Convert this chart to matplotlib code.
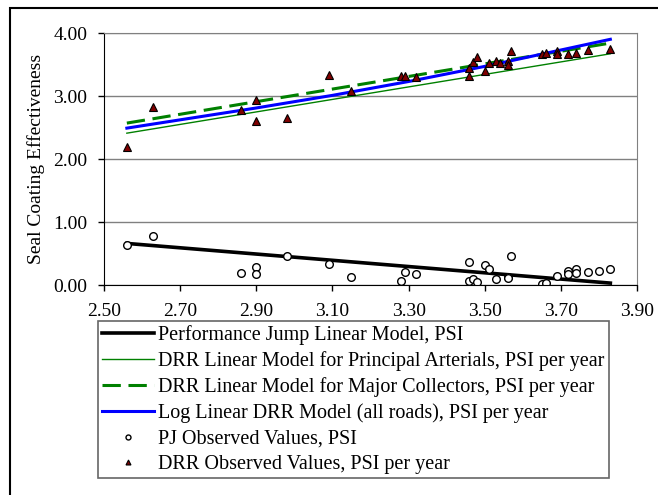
# Seal coating effectiveness vs PSI - recreated chart

import numpy as np
import matplotlib.pyplot as plt

plt.rcParams['font.family'] = ['Liberation Serif', 'DejaVu Serif']

# PJ observed values, PSI
pj_x = [2.56, 2.63, 2.86, 2.90, 2.90, 2.98, 3.09, 3.15, 3.28, 3.29, 3.32,
        3.46, 3.46, 3.47, 3.48, 3.50, 3.51, 3.53, 3.56, 3.56, 3.57, 3.65,
        3.66, 3.69, 3.72, 3.72, 3.74, 3.74, 3.77, 3.80, 3.83]
pj_y = [0.63, 0.78, 0.19, 0.29, 0.17, 0.46, 0.34, 0.13, 0.06, 0.21, 0.17,
        0.36, 0.06, 0.10, 0.04, 0.32, 0.25, 0.09, 0.12, 0.11, 0.46, 0.02,
        0.03, 0.15, 0.23, 0.17, 0.26, 0.19, 0.21, 0.22, 0.26]

# DRR observed values, PSI per year
drr_x = [2.56, 2.63, 2.86, 2.90, 2.90, 2.98, 3.09, 3.15, 3.28, 3.29, 3.32,
         3.46, 3.46, 3.47, 3.48, 3.50, 3.51, 3.53, 3.54, 3.56, 3.56, 3.57,
         3.65, 3.66, 3.69, 3.69, 3.72, 3.74, 3.77, 3.83]
drr_y = [2.19, 2.82, 2.78, 2.93, 2.60, 2.65, 3.33, 3.08, 3.32, 3.31, 3.30,
         3.44, 3.31, 3.54, 3.62, 3.40, 3.52, 3.56, 3.52, 3.55, 3.49, 3.72,
         3.67, 3.68, 3.72, 3.67, 3.67, 3.68, 3.73, 3.74]

# model lines
pj_model_x = [2.56, 3.83]
pj_model_y = [0.66, 0.03]
pa_model_x = [2.56, 3.83]
pa_model_y = [2.41, 3.67]
mc_model_x = [2.56, 3.83]
mc_model_y = [2.57, 3.84]
log_model_x = [2.56, 2.90, 3.10, 3.30, 3.50, 3.70, 3.83]
log_model_y = [2.49, 2.81, 3.01, 3.23, 3.47, 3.73, 3.90]

fig = plt.figure(figsize=(6.58, 4.95), dpi=100)
ax = fig.add_axes([104/658, 1-285/495, (637-104)/658, (285-33)/495])

ax.plot(pj_model_x, pj_model_y, color='black', lw=2.6,
        label='Performance Jump Linear Model, PSI')
ax.plot(pa_model_x, pa_model_y, color='#008000', lw=1.0,
        label='DRR Linear Model for Principal Arterials, PSI per year')
ax.plot(mc_model_x, mc_model_y, color='#008000', lw=2.2, linestyle=(0, (6, 2.5)),
        label='DRR Linear Model for Major Collectors, PSI per year')
ax.plot(log_model_x, log_model_y, color='#0000FF', lw=2.2,
        label='Log Linear DRR Model (all roads), PSI per year')
ax.plot(pj_x, pj_y, 'o', ms=5.5, mfc='white', mec='black', mew=1.0,
        label='PJ Observed Values, PSI')
ax.plot(drr_x, drr_y, '^', ms=5.5, mfc='#800000', mec='black', mew=0.8,
        label='DRR Observed Values, PSI per year')

ax.set_xlim(2.5, 3.9)
ax.set_ylim(0, 4)
ax.set_xticks(np.arange(2.5, 3.91, 0.2))
ax.set_yticks([0, 1, 2, 3, 4])
ax.xaxis.set_major_formatter(plt.FormatStrFormatter('%.2f'))
ax.yaxis.set_major_formatter(plt.FormatStrFormatter('%.2f'))
ax.tick_params(labelsize=14, direction='out', length=4, width=1)
ax.tick_params(axis='x', pad=9)
ax.tick_params(axis='y', pad=8)
ax.grid(axis='y', color='#808080', lw=1)
ax.set_axisbelow(True)
ax.spines['top'].set_color('#808080')
ax.spines['right'].set_color('#808080')
ax.set_ylabel('Seal Coating Effectiveness', fontsize=14, labelpad=6)

leg = fig.legend(loc='upper left', bbox_to_anchor=(98/658, 1-321/495),
                 fontsize=14.5, frameon=True, fancybox=False, borderpad=0.2,
                 handlelength=2.6, handletextpad=0.2, labelspacing=0.31,
                 borderaxespad=0, markerscale=0.65)
leg.get_frame().set_edgecolor('#404040')
leg.get_frame().set_linewidth(1.2)

# outer frame around the chart
fig.add_artist(plt.Rectangle((10/658, -0.1), 1.2, 1.1 - 7.5/495, fill=False,
                             lw=1.5, ec='black', transform=fig.transFigure))

fig.savefig('out.png', dpi=100)
